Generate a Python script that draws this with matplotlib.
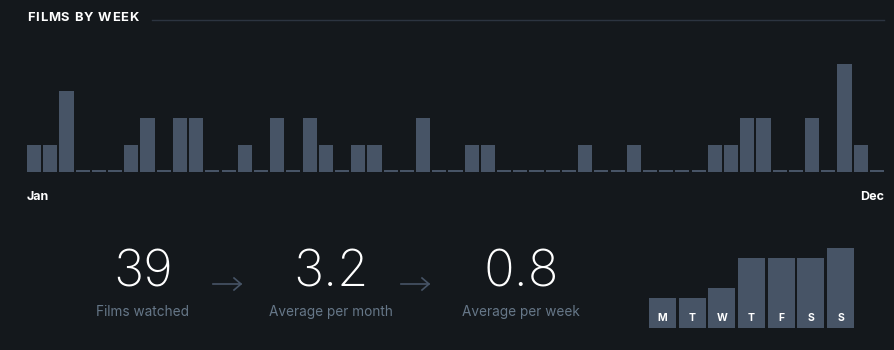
import numpy as np
import matplotlib.pyplot as plt

# Films logged per week of the year (53 weeks)
weeks = [1, 1, 3, 0, 0, 0, 1, 2, 0, 2, 2, 0, 0, 1, 0, 2, 0, 2, 1, 0,
         1, 1, 0, 0, 2, 0, 0, 1, 1, 0, 0, 0, 0, 0, 1, 0, 0, 1, 0, 0,
         0, 0, 1, 1, 2, 2, 0, 0, 2, 0, 4, 1, 0]
month_labels = ['Jan', 'Dec']

# Films logged by day of week
day_labels = ['M', 'T', 'W', 'T', 'F', 'S', 'S']
day_counts = [3, 3, 4, 7, 7, 7, 8]

stat_values = ['39', '3.2', '0.8']
stat_labels = ['Films watched', 'Average per month', 'Average per week']

BG = '#14181c'
BAR = '#475466'
MUTED = '#678'
FONT = ['Inter', 'DejaVu Sans']

W, H = 895, 350
fig = plt.figure(figsize=(W / 100, H / 100), dpi=100, facecolor=BG)


def px_axes(x0, y_top, x1, y_bot):
    ax = fig.add_axes([x0 / W, 1 - y_bot / H, (x1 - x0) / W, (y_bot - y_top) / H])
    ax.set_facecolor(BG)
    ax.axis('off')
    return ax


# weekly bars
ax = px_axes(27, 64, 884, 172)
bw = 0.87
x = np.arange(len(weeks))
vals = np.array(weeks, dtype=float)
ax.bar(x, vals, width=bw, color=BAR, align='center')
# empty weeks get a thin stub on the baseline
ax.bar(x[vals == 0], 0.07, width=bw, color=BAR, align='center')
ax.set_xlim(-bw / 2, len(weeks) - 1 + bw / 2)
ax.set_ylim(0, max(weeks))

# heading with a bit of letter spacing
heading = 'FILMS BY WEEK'
hx = 27
renderer = fig.canvas.get_renderer()
for ch in heading:
    t = fig.text(hx / W, 1 - 18 / H, ch, color='white', fontsize=9.3,
                 fontweight='bold', family=FONT, va='center', ha='left')
    hx += t.get_window_extent(renderer).width + 0.8 if ch != ' ' else 4.0
fig.add_artist(plt.Line2D([152 / W, 884 / W], [1 - 20 / H, 1 - 20 / H],
                          color='#2c3440', lw=1))
fig.text(27 / W, 1 - 197 / H, month_labels[0], color='white', fontsize=9,
         fontweight='bold', family=FONT, va='center', ha='left')
fig.text(884 / W, 1 - 197 / H, month_labels[1], color='white', fontsize=9,
         fontweight='bold', family=FONT, va='center', ha='right')

# summary numbers
centers = [143, 331, 521]
for cx, v, lab in zip(centers, stat_values, stat_labels):
    fig.text(cx / W, 1 - 273 / H, v, color='white', fontsize=36.5,
             fontweight='light', family=FONT, va='center', ha='center')
    fig.text(cx / W, 1 - 312 / H, lab, color=MUTED, fontsize=9.8,
             family=FONT, va='center', ha='center')
for ax0 in [213, 401]:
    fig.add_artist(plt.Line2D([ax0 / W, (ax0 + 28) / W], [1 - 284 / H] * 2,
                              color=BAR, lw=1.2))
    fig.add_artist(plt.Line2D([(ax0 + 21) / W, (ax0 + 28) / W, (ax0 + 21) / W],
                              [1 - 278 / H, 1 - 284 / H, 1 - 290 / H],
                              color=BAR, lw=1.2))

# day of week bars
dax = px_axes(649, 248, 854, 328)
dw = 0.91
dx = np.arange(len(day_counts))
dax.bar(dx, day_counts, width=dw, color=BAR)
dax.set_xlim(-dw / 2, len(day_counts) - 1 + dw / 2)
dax.set_ylim(0, max(day_counts))
for i, d in enumerate(day_labels):
    dax.text(i, 1.0, d, color='white', fontsize=7.5, fontweight='bold',
             family=FONT, ha='center', va='center')

fig.savefig('out.png', dpi=100, facecolor=BG)
